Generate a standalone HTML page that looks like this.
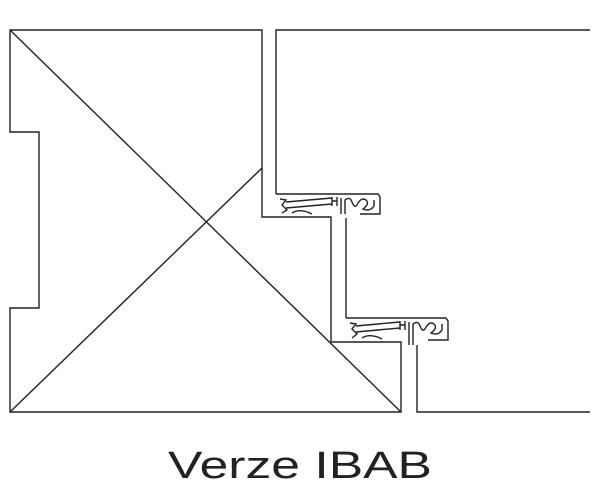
<!DOCTYPE html>
<html><head><style>html,body{margin:0;padding:0;background:#fff;width:600px;height:500px;overflow:hidden}</style></head>
<body>
<svg width="600" height="500" viewBox="0 0 600 500" xmlns="http://www.w3.org/2000/svg">
<g fill="none" stroke="#222" stroke-width="1.4">
<path d="M262,30 L10,30 L10,132 L39,132 L39,308 L10,308 L10,412 L401,412 L401,342 L331,342 L331,217 L262,217 Z"/>
<line x1="10" y1="30" x2="401" y2="412"/>
<line x1="10" y1="412" x2="262" y2="168"/>
<path d="M590,30 L276,30 L276,194"/>
<path d="M346,218 L346,318"/>
<path d="M417,345 L417,412 L590,412"/>
<path d="M276,194 L378,194 L380,197 L380,214 L360,214"/>
<path d="M280,199 L286,200 L282,205 L287,210 L282,213"/>
<path d="M286,202 L332,198 M286,208 L332,204"/>
<path d="M292,213 Q300,208 312,214"/>
<path d="M332,197 L332,206 M337,197 L337,206 M332,201 L337,201"/>
<path d="M341,198 L341,214 M345,214 L345,200 Q350,196 352,202 Q355,210 358,203 Q362,197 366,200 Q370,204 363,209 Q370,212 374,206 L374,200"/>
<path d="M346,318 L446,318 L448,321 L448,340 L428,340"/>
<path d="M350,323 L356,324 L352,329 L357,334 L352,338"/>
<path d="M356,326 L400,322 M356,332 L400,328"/>
<path d="M362,338 Q370,333 382,339"/>
<path d="M400,321 L400,330 M405,321 L405,330 M400,325 L405,325"/>
<path d="M409,322 L409,345 M413,345 L413,324 Q418,320 420,326 Q423,334 426,327 Q430,321 434,324 Q438,328 431,333 Q438,336 442,330 L442,324"/>
</g>
<text x="300" y="478" text-anchor="middle" font-family="Liberation Sans, sans-serif" font-size="38" fill="#222" textLength="264" lengthAdjust="spacingAndGlyphs">Verze IBAB</text>
</svg>
</body></html>
